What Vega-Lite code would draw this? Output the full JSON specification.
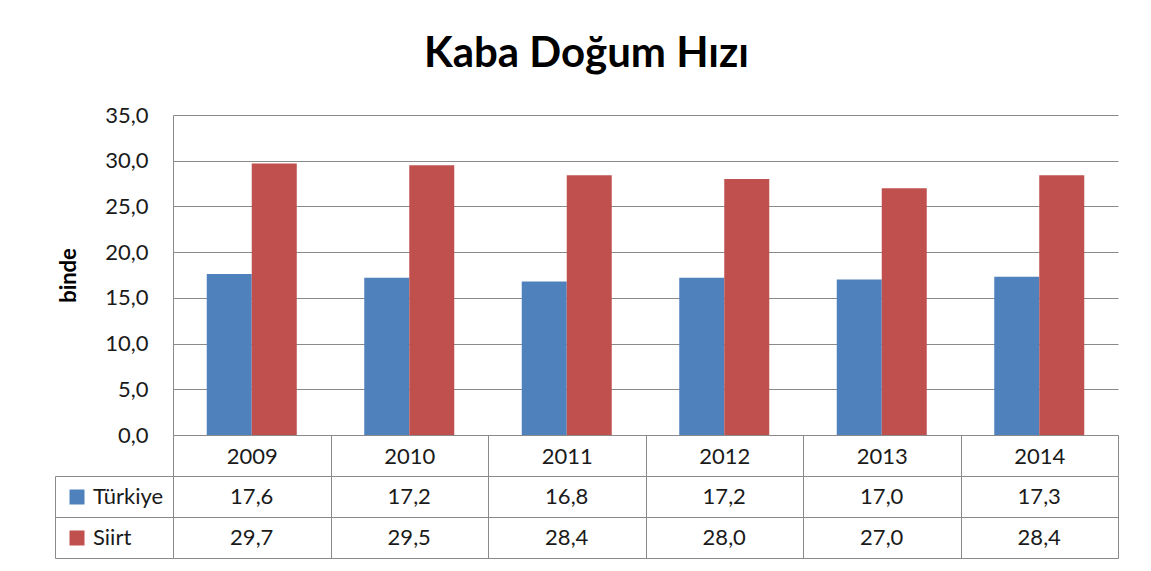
{
  "$schema": "https://vega.github.io/schema/vega-lite/v6.json",
  "background": "white",
  "padding": {"left": 54, "top": 33, "right": 30, "bottom": 10},
  "title": {"text": "Kaba Doğum Hızı", "font": "Lato", "fontSize": 42, "fontWeight": "bold", "color": "black", "anchor": "middle", "offset": 28},
  "config": {
    "font": "Lato",
    "locale": {"number": {"decimal": ",", "thousands": ".", "grouping": [3], "currency": ["", " ₺"]}},
    "axis": {"labelFont": "Lato", "labelFontSize": 22, "labelColor": "#1a1a1a", "domainColor": "#8a8a8a", "gridColor": "#8a8a8a", "tickColor": "#8a8a8a", "gridOpacity": 1},
    "view": {"stroke": null}
  },
  "datasets": {
    "rows": [
      {"year": "2009", "series": "Türkiye", "value": 17.6},
      {"year": "2010", "series": "Türkiye", "value": 17.2},
      {"year": "2011", "series": "Türkiye", "value": 16.8},
      {"year": "2012", "series": "Türkiye", "value": 17.2},
      {"year": "2013", "series": "Türkiye", "value": 17.0},
      {"year": "2014", "series": "Türkiye", "value": 17.3},
      {"year": "2009", "series": "Siirt", "value": 29.7},
      {"year": "2010", "series": "Siirt", "value": 29.5},
      {"year": "2011", "series": "Siirt", "value": 28.4},
      {"year": "2012", "series": "Siirt", "value": 28.0},
      {"year": "2013", "series": "Siirt", "value": 27.0},
      {"year": "2014", "series": "Siirt", "value": 28.4}
    ]
  },
  "bounds": "flush",
  "spacing": 41,
  "vconcat": [
    {
      "width": 945,
      "height": 320,
      "data": {"name": "rows"},
      "mark": {"type": "bar"},
      "encoding": {
        "x": {
          "field": "year", "type": "nominal",
          "scale": {"paddingInner": 0, "paddingOuter": 0},
          "axis": {"title": null, "labelAngle": 0, "tickBand": "extent", "tickSize": 41, "labelPadding": -20, "labelBaseline": "middle", "domainColor": "#8a8a8a"}
        },
        "xOffset": {"field": "series", "type": "nominal", "sort": ["Türkiye", "Siirt"], "scale": {"paddingInner": 0, "paddingOuter": 0.75}},
        "y": {
          "field": "value", "type": "quantitative",
          "scale": {"domain": [0, 35], "nice": false},
          "axis": {"title": "binde", "titleFont": "Lato", "titleFontSize": 22, "titleFontWeight": "bold", "titleColor": "black", "titlePadding": 24, "values": [0, 5, 10, 15, 20, 25, 30, 35], "format": ".1f", "ticks": false, "labelPadding": 25, "grid": true}
        },
        "color": {
          "field": "series", "type": "nominal",
          "scale": {"domain": ["Türkiye", "Siirt"], "range": ["#4F81BD", "#C0504D"]},
          "legend": {"orient": "none", "legendX": -107, "legendY": 371, "title": null, "symbolType": "square", "symbolSize": 225, "symbolStrokeWidth": 0, "labelFontSize": 22, "labelFont": "Lato", "labelColor": "#1a1a1a", "rowPadding": 19, "labelOffset": 5, "padding": 0}
        }
      }
    },
    {
      "width": 945,
      "height": 82,
      "data": {"name": "rows"},
      "mark": {"type": "text", "fontSize": 22, "font": "Lato", "color": "#1a1a1a"},
      "encoding": {
        "x": {
          "field": "year", "type": "nominal",
          "scale": {"type": "band", "paddingInner": 0, "paddingOuter": 0},
          "axis": {"title": null, "labels": false, "ticks": false, "domain": false, "grid": true, "tickBand": "extent"}
        },
        "y": {
          "field": "series", "type": "nominal", "sort": ["Türkiye", "Siirt"],
          "scale": {"type": "band", "paddingInner": 0, "paddingOuter": 0},
          "axis": {"title": null, "labels": false, "grid": true, "tickBand": "extent", "ticks": true, "tickSize": -118, "offset": 118, "domain": true}
        },
        "text": {"field": "value", "type": "quantitative", "format": ".1f"}
      }
    }
  ]
}
